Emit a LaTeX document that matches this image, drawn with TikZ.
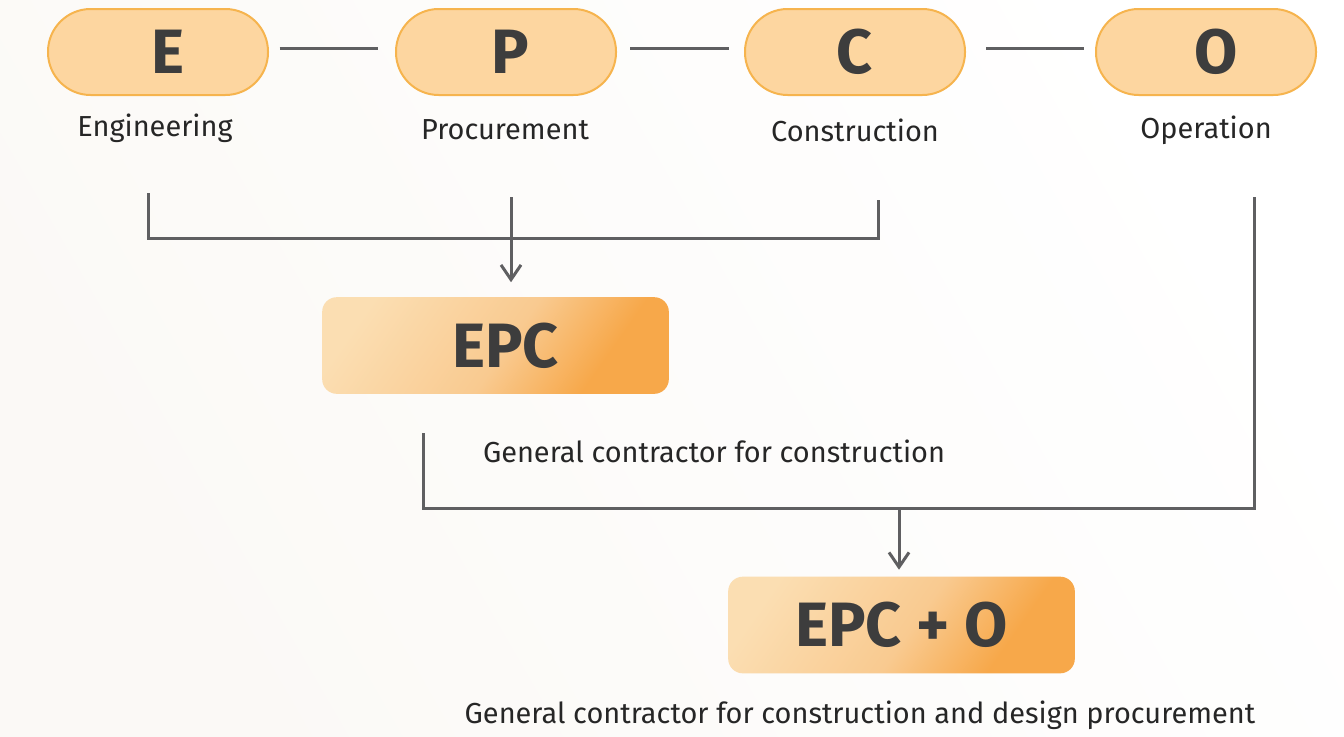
\documentclass[tikz,border=0pt]{standalone}
\usepackage{fontspec}
\setmainfont{Fira Sans}
\usetikzlibrary{arrows.meta}

\definecolor{pillfill}{RGB}{253,214,160}
\definecolor{pilldraw}{RGB}{246,180,78}
\definecolor{linegray}{RGB}{95,95,97}
\definecolor{txtgray}{RGB}{61,61,61}
\definecolor{boxlight}{RGB}{251,222,178}
\definecolor{boxmid}{RGB}{249,202,144}
\definecolor{boxdark}{RGB}{247,168,74}
\definecolor{bgwarm}{RGB}{251,249,246}
\pgfdeclarehorizontalshading{boxshade}{100bp}{color(0bp)=(boxlight); color(24bp)=(boxlight); color(52bp)=(boxmid); color(70bp)=(boxdark); color(100bp)=(boxdark)}

\begin{document}
\begin{tikzpicture}[x=0.75pt,y=0.75pt,yscale=-1,xscale=1,
    pill/.style={draw=pilldraw, line width=1.5pt, fill=pillfill, rounded corners=32pt, minimum width=165pt, minimum height=64.5pt, text=txtgray, font=\fontsize{47}{50}\selectfont\bfseries, execute at begin node={\hspace*{#1}}},
    pill/.default=0pt,
    phase/.style={text=black!85, font=\fontsize{21.7}{25}\selectfont},
    epcbox/.style={rounded corners=11pt, shading=boxshade, shading angle=-35, minimum width=260pt, minimum height=72.5pt, text=txtgray, font=\fontsize{47}{50}\selectfont\bfseries},
    link/.style={draw=linegray, line width=2.25pt},
    flow/.style={link, -{Straight Barb[length=11pt,width=15pt,line width=2.25pt]}}]
    %set diagram size 1344 x 736
    \shade[left color=white, right color=bgwarm, shading angle=-60] (0,0) rectangle (1344,736);
    \useasboundingbox (0,0) rectangle (1344,736);

    %Shape: Pills
    \node (E) at (158,52) [pill=15pt] {E};
    \node (P) at (506,52) [pill=6pt] {P};
    \node (C) at (855,52) [pill] {C};
    \node (O) at (1206,52) [pill=15pt] {O};
    %Straight Lines between pills
    \draw [link, shorten <=8pt, shorten >=13pt] ([yshift=-3pt]E.east) -- ([yshift=-3pt]P.west);
    \draw [link, shorten <=10pt, shorten >=11pt] ([yshift=-3pt]P.east) -- ([yshift=-3pt]C.west);
    \draw [link, shorten <=15pt, shorten >=8pt] ([yshift=-3pt]C.east) -- ([yshift=-3pt]O.west);

    % Text Node
    \node (eng) at (155,128) [phase] {Engineering};
    % Text Node
    \node (proc) at (505,130) [phase] {Procurement};
    % Text Node
    \node (cons) at (855,130) [phase] {Construction};
    % Text Node
    \node (oper) at (1206,130) [phase] {Operation};

    %Shape: Boxes
    \node (EPC) at (495.5,345.5) [epcbox, execute at begin node={\hspace*{15pt}}] {EPC};
    \node (EPCO) at (901.5,625) [epcbox] {EPC + O};

    % Text Node
    \node (cap1) at (714,451) [phase] {General contractor for construction};
    % Text Node
    \node (cap2) at (860,715) [phase] {General contractor for construction and design procurement};

    %Bracket: E, P, C to EPC
    \coordinate (engend) at (148,193);
    \coordinate (procend) at (511,197);
    \coordinate (consend) at (878,200);
    \coordinate (bar1) at (511,238);
    \draw [link] (engend) |- (bar1) -| (consend);
    \draw [flow, shorten >=11pt] (procend) -- (procend |- EPC.north);

    %Bracket: EPC, O to EPC + O
    \coordinate (epcend) at (423,433);
    \coordinate (operend) at (1254,197);
    \coordinate (bar2) at (899,508);
    \draw [link] (epcend) |- (bar2) -| (operend);
    \draw [flow, shorten >=5pt] (bar2) -- (bar2 |- EPCO.north);
\end{tikzpicture}
\end{document}
